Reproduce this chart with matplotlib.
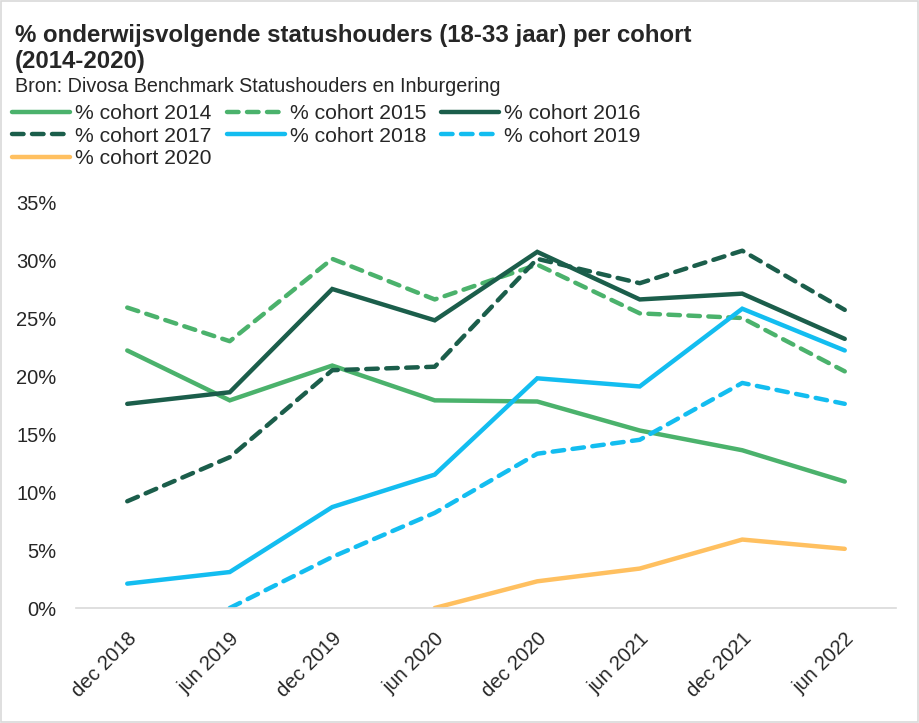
import matplotlib
matplotlib.use("Agg")
import matplotlib.pyplot as plt
from matplotlib.lines import Line2D
from matplotlib.patches import Rectangle
import numpy as np

plt.rcParams['font.family'] = ['Liberation Sans', 'DejaVu Sans']

categories = ["dec 2018", "jun 2019", "dec 2019", "jun 2020", "dec 2020", "jun 2021", "dec 2021", "jun 2022"]

cohort_2014 = [22.2, 17.9, 20.9, 17.9, 17.8, 15.3, 13.6, 10.9]
cohort_2015 = [25.9, 23.0, 30.1, 26.6, 29.6, 25.4, 25.0, 20.4]
cohort_2016 = [17.6, 18.6, 27.5, 24.8, 30.7, 26.6, 27.1, 23.2]
cohort_2017 = [9.2, 13.0, 20.5, 20.8, 30.1, 28.0, 30.8, 25.7]
cohort_2018 = [2.1, 3.1, 8.7, 11.5, 19.8, 19.1, 25.8, 22.2]
cohort_2019 = [None, 0.0, 4.4, 8.2, 13.3, 14.5, 19.4, 17.6]
cohort_2020 = [None, None, None, 0.0, 2.3, 3.4, 5.9, 5.1]

labels = ["% cohort 2014", "% cohort 2015", "% cohort 2016", "% cohort 2017",
          "% cohort 2018", "% cohort 2019", "% cohort 2020"]
series = [cohort_2014, cohort_2015, cohort_2016, cohort_2017, cohort_2018, cohort_2019, cohort_2020]

green = "#4BB26C"
dark = "#1B5E4B"
blue = "#13BDF0"
orange = "#FFC060"
colors = [green, green, dark, dark, blue, blue, orange]
dashed = [False, True, False, True, False, True, False]
text_color = "#262626"

fig = plt.figure(figsize=(9.2, 7.23), dpi=100)
fig.patch.set_facecolor("white")
fig.add_artist(Rectangle((0.001, 0.001), 0.997, 0.997, transform=fig.transFigure,
                         fill=False, edgecolor="#d9d9d9", linewidth=1.2))

ax = fig.add_axes([76/920, 1-608/723, (896-76)/920, (608-202)/723])
x = np.arange(len(categories))
for s, lab, c, d in zip(series, labels, colors, dashed):
    y = np.array([np.nan if v is None else v for v in s], dtype=float)
    kw = dict(color=c, linewidth=3.2, solid_capstyle='round', dash_capstyle='round',
              solid_joinstyle='miter', label=lab)
    ax.plot(x, y, linestyle=(0, (2.6, 1.9)) if d else '-', **kw)

ax.set_xlim(-0.5, len(categories) - 0.5)
ax.set_ylim(0, 35)
ax.set_yticks(np.arange(0, 36, 5))
ax.set_yticklabels([f"{v}%" for v in range(0, 36, 5)])
ax.set_xticks(x)
ax.set_xticklabels(categories, rotation=45, ha='right', va='top', rotation_mode='anchor')
for sp in ['top', 'right', 'left']:
    ax.spines[sp].set_visible(False)
ax.spines['bottom'].set_color("#d9d9d9")
ax.spines['bottom'].set_linewidth(1.2)
ax.tick_params(axis='y', length=0, pad=14, labelsize=14.5, labelcolor=text_color)
ax.tick_params(axis='x', length=0, pad=15, labelsize=14.5, labelcolor=text_color)

fig.text(15/920, 1-42/723, "% onderwijsvolgende statushouders (18-33 jaar) per cohort",
         fontsize=17.3, fontweight='bold', color=text_color, va='baseline', ha='left')
fig.text(15/920, 1-68/723, "(2014-2020)",
         fontsize=17.3, fontweight='bold', color=text_color, va='baseline', ha='left')
fig.text(15/920, 1-92/723, "Bron: Divosa Benchmark Statushouders en Inburgering",
         fontsize=14.2, color=text_color, va='baseline', ha='left')

order = [0, 3, 6, 1, 4, 2, 5]
leg_handles = [Line2D([0], [0], color=colors[i], linewidth=3.2,
                      linestyle=(0, (2.6, 1.9)) if dashed[i] else '-',
                      solid_capstyle='round', dash_capstyle='round') for i in order]
leg = fig.legend(leg_handles, [labels[i] for i in order], ncol=3, loc='upper left',
                 bbox_to_anchor=(12/920, 1-104/723), frameon=False, fontsize=15.2,
                 handlelength=2.75, handletextpad=0.25, columnspacing=0.7,
                 labelspacing=0.17, borderpad=0.0, borderaxespad=0)
for t in leg.get_texts():
    t.set_color(text_color)

fig.savefig("out.png", dpi=100)
